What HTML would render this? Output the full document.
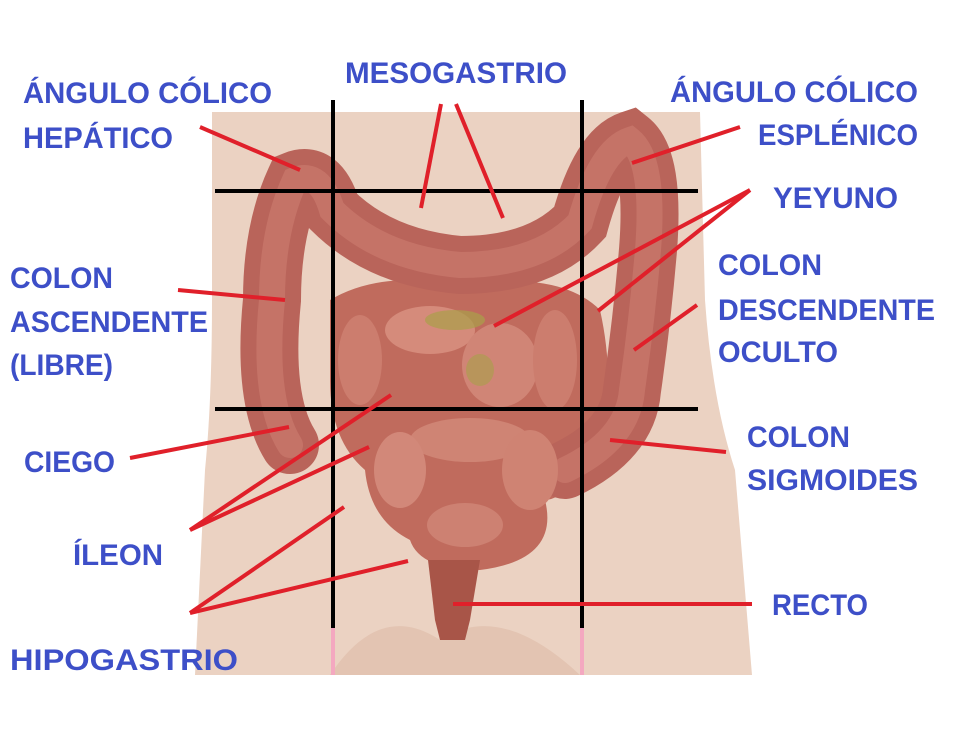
<!DOCTYPE html>
<html><head><meta charset="utf-8"><style>
html,body{margin:0;padding:0;background:#fff;}
svg{display:block}
text{font-family:"Liberation Sans",Arial,sans-serif;font-weight:bold;font-size:30px;fill:#3d4fc8;}
</style></head><body>
<svg width="956" height="737" viewBox="0 0 956 737" xmlns="http://www.w3.org/2000/svg">
<rect width="956" height="737" fill="#fff"/>
<!-- body -->
<path d="M212,112 L700,112 L705,300 Q712,400 735,470 L752,675 L195,675 L205,470 Q212,400 212,300 Z" fill="#ebd2c2"/>
<path d="M330,675 Q380,600 440,640 Q500,600 580,675 Z" fill="#e3c4b2"/>
<!-- small intestine mass -->
<path d="M330,300 Q380,270 460,285 Q560,270 600,310 Q620,400 590,470 Q560,500 545,500 Q560,560 480,570 Q420,570 410,540 Q370,520 365,470 Q330,440 330,380 Z" fill="#c06b5d"/>
<!-- colon -->
<path d="M290,445 Q262,400 272,300 Q272,230 295,180 Q320,170 332,210 Q380,258 460,265 Q540,265 580,222 Q600,150 630,140 Q655,160 648,250 Q642,320 632,390 Q628,440 565,470" fill="none" stroke="#b9645a" stroke-width="58" stroke-linecap="round"/>
<path d="M290,445 Q262,400 272,300 Q272,230 295,180 Q320,170 332,210 Q380,258 460,265 Q540,265 580,222 Q600,150 630,140 Q655,160 648,250 Q642,320 632,390 Q628,440 565,470" fill="none" stroke="#cf8072" stroke-width="26" stroke-linecap="round" opacity="0.55"/>
<!-- loops -->
<ellipse cx="430" cy="330" rx="45" ry="24" fill="#d58b7b"/>
<ellipse cx="500" cy="365" rx="38" ry="42" fill="#d08576"/>
<ellipse cx="555" cy="360" rx="22" ry="50" fill="#cc7d6e"/>
<ellipse cx="360" cy="360" rx="22" ry="45" fill="#cc7d6e"/>
<ellipse cx="470" cy="440" rx="60" ry="22" fill="#cf8474"/>
<ellipse cx="530" cy="470" rx="28" ry="40" fill="#cf8373"/>
<ellipse cx="400" cy="470" rx="26" ry="38" fill="#d28879"/>
<ellipse cx="465" cy="525" rx="38" ry="22" fill="#cd8172"/>
<ellipse cx="455" cy="320" rx="30" ry="10" fill="#a9a04a" opacity="0.7"/>
<ellipse cx="480" cy="370" rx="14" ry="16" fill="#a9a04a" opacity="0.6"/>
<!-- rectum -->
<path d="M428,560 L480,560 L470,620 L465,640 L440,640 L435,620 Z" fill="#a85548"/>
<!-- grid -->
<g stroke="#000" stroke-width="4">
<line x1="333" y1="100" x2="333" y2="628"/>
<line x1="582" y1="100" x2="582" y2="628"/>
<line x1="215" y1="191" x2="698" y2="191"/>
<line x1="215" y1="409" x2="698" y2="409"/>
</g>
<g stroke="#f4a8c0" stroke-width="4">
<line x1="333" y1="628" x2="333" y2="675"/>
<line x1="582" y1="628" x2="582" y2="675"/>
</g>
<!-- red lines -->
<g stroke="#e0202a" stroke-width="4" fill="none">
<line x1="200" y1="127" x2="300" y2="170"/>
<line x1="421" y1="208" x2="441" y2="104"/>
<line x1="456" y1="104" x2="503" y2="218"/>
<line x1="740" y1="127" x2="632" y2="163"/>
<line x1="750" y1="190" x2="494" y2="326"/>
<line x1="750" y1="190" x2="598" y2="311"/>
<line x1="178" y1="290" x2="285" y2="300"/>
<line x1="697" y1="305" x2="634" y2="350"/>
<line x1="130" y1="458" x2="289" y2="427"/>
<line x1="190" y1="530" x2="391" y2="395"/>
<line x1="190" y1="530" x2="369" y2="447"/>
<line x1="190" y1="613" x2="344" y2="507"/>
<line x1="190" y1="613" x2="408" y2="561"/>
<line x1="752" y1="604" x2="453" y2="604"/>
<line x1="726" y1="452" x2="610" y2="440"/>
</g>
<!-- labels -->
<text x="23" y="103" textLength="249" lengthAdjust="spacingAndGlyphs">ÁNGULO CÓLICO</text>
<text x="23" y="148" textLength="150" lengthAdjust="spacingAndGlyphs">HEPÁTICO</text>
<text x="345" y="83" textLength="222" lengthAdjust="spacingAndGlyphs">MESOGASTRIO</text>
<text x="670" y="102" textLength="248" lengthAdjust="spacingAndGlyphs">ÁNGULO CÓLICO</text>
<text x="758" y="145" textLength="160" lengthAdjust="spacingAndGlyphs">ESPLÉNICO</text>
<text x="773" y="208" textLength="125" lengthAdjust="spacingAndGlyphs">YEYUNO</text>
<text x="718" y="275" textLength="104" lengthAdjust="spacingAndGlyphs">COLON</text>
<text x="718" y="320" textLength="217" lengthAdjust="spacingAndGlyphs">DESCENDENTE</text>
<text x="718" y="362" textLength="120" lengthAdjust="spacingAndGlyphs">OCULTO</text>
<text x="10" y="288" textLength="103" lengthAdjust="spacingAndGlyphs">COLON</text>
<text x="10" y="332" textLength="198" lengthAdjust="spacingAndGlyphs">ASCENDENTE</text>
<text x="10" y="375" textLength="103" lengthAdjust="spacingAndGlyphs">(LIBRE)</text>
<text x="24" y="472" textLength="91" lengthAdjust="spacingAndGlyphs">CIEGO</text>
<text x="73" y="565" textLength="90" lengthAdjust="spacingAndGlyphs">ÍLEON</text>
<text x="10" y="670" textLength="228" lengthAdjust="spacingAndGlyphs">HIPOGASTRIO</text>
<text x="747" y="447" textLength="103" lengthAdjust="spacingAndGlyphs">COLON</text>
<text x="747" y="490" textLength="171" lengthAdjust="spacingAndGlyphs">SIGMOIDES</text>
<text x="772" y="615" textLength="96" lengthAdjust="spacingAndGlyphs">RECTO</text>
</svg>
</body></html>
